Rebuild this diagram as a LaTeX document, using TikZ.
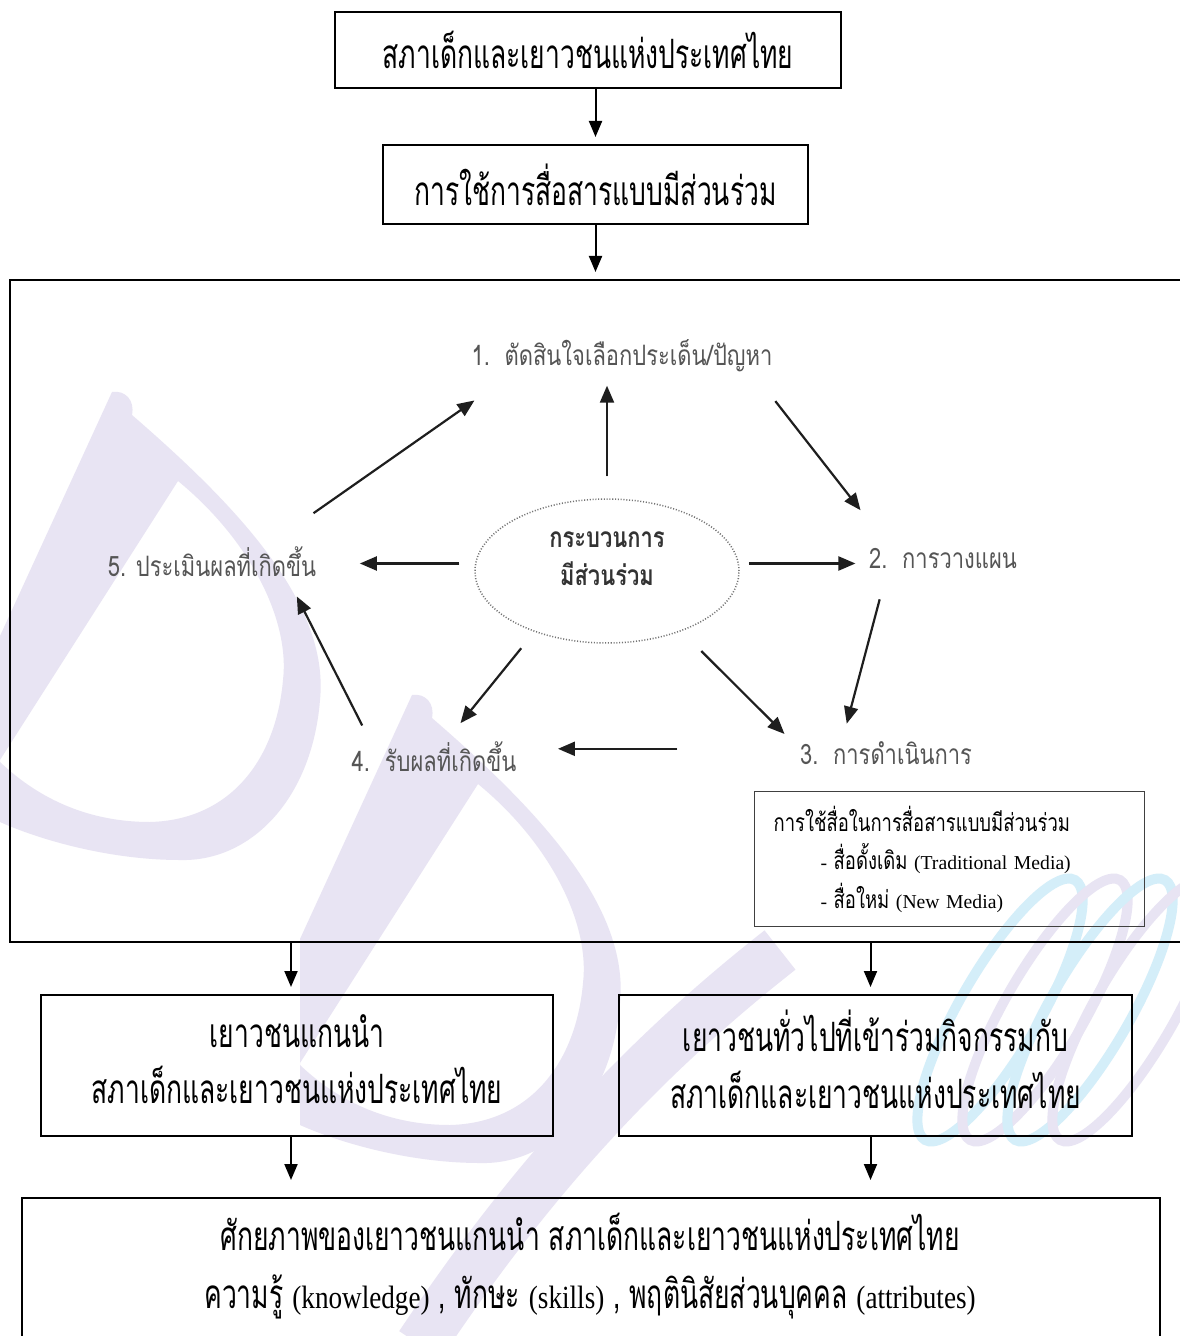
\documentclass[tikz,border=0pt]{standalone}
\usepackage{fontspec}
\setmainfont{Liberation Serif}
\newfontfamily\thaiserif[Script=Thai,FakeStretch=0.655]{Loma}
\newfontfamily\thaismall[Script=Thai,FakeStretch=0.75]{Loma}
\newfontfamily\thaisans[Script=Thai,FakeStretch=0.78]{Loma}
\newfontfamily\latnarrow[FakeStretch=0.84]{Liberation Serif}
\usetikzlibrary{arrows.meta,shapes.geometric,calc,positioning}
\definecolor{lblgray}{RGB}{85,85,85}
\definecolor{arrgray}{RGB}{30,30,30}
\definecolor{wmpurple}{RGB}{232,228,243}
\definecolor{wmcyan}{RGB}{212,238,249}
\newcommand{\thsm}[1]{{\thaismall\fontsize{7}{11}\selectfont #1}}
\newcommand{\ltn}[1]{{\latnarrow\fontsize{9.2}{16.5}\selectfont #1}}
% watermark drop, tip at (0,0)
\newcommand{\wmdrop}{(-115,243) -- (-3,-1) .. controls (10,-3) and (20,7) .. (17,22)
  .. controls (115,107) and (215,207) .. (205,307) .. controls (197,407) and (135,469) .. (65,467)
  .. controls (-5,467) and (-75,447) .. (-115,429) -- cycle
  (-115,367) -- (63,88) .. controls (135,147) and (175,227) .. (168,287)
  .. controls (161,367) and (115,427) .. (35,429) .. controls (-25,429) and (-75,407) .. (-115,369) -- cycle}
\tikzset{
 box/.style={draw=black,line width=0.2mm,inner sep=0pt,align=center,
   font=\thaiserif\fontsize{11.5}{16.2}\selectfont},
 lbl/.style={inner sep=0pt,text height=1.5mm,text depth=0.5mm,text=lblgray,
   font=\thaisans\fontsize{8}{10}\selectfont},
 marr/.style={-{Triangle[length=1.6mm,width=1.3mm]},line width=0.2mm,shorten >=0.7mm},
 carr/.style={-{Triangle[length=1.7mm,width=1.4mm]},line width=0.22mm,draw=arrgray,fill=arrgray},
}
\begin{document}
\begin{tikzpicture}[x=0.1mm,y=-0.1mm]
\fill[white](0,0)rectangle(1179,1336);
\useasboundingbox(0,0)rectangle(1179,1336);
%watermark
\begin{scope}[shift={(115,393)}]
\fill[wmpurple,even odd rule]\wmdrop;
\end{scope}
\begin{scope}[shift={(415,696)}]
\fill[wmpurple,even odd rule]\wmdrop;
\end{scope}
\draw[wmpurple,line width=5mm](420,1345)..controls(530,1180)and(640,1060)..(780,950);
\foreach \dx/\col in {0/wmcyan,45/wmpurple,90/wmcyan,135/wmpurple}
  \draw[\col,line width=1mm,rotate around={-30:(1000+\dx,1010)}](1000+\dx,1010)ellipse(40 and 150);
%top boxes
\node[box,minimum width=50.6mm,minimum height=7.6mm](b1)at(588,50){สภาเด็กและเยาวชนแห่งประเทศไทย};
\node[box,minimum width=42.5mm,minimum height=7.9mm](b2)at(595.5,184.5){การใช้การสื่อสารแบบมีส่วนร่วม};
\node[box,anchor=north west,minimum width=120mm,minimum height=66.2mm](proc)at(9,279){};
%cycle
\node[ellipse,draw=black!55,line width=0.15mm,dash pattern=on 0.3pt off 0.5pt,
  minimum width=26.4mm,minimum height=14.4mm,align=center,text=black!80,text depth=2.4mm,
  font=\thaisans\bfseries\fontsize{8}{10.8}\selectfont](cyc)at(607,571){กระบวนการ\\มีส่วนร่วม};
\node[lbl](s1)at(622,360.5){1.\ \ ตัดสินใจเลือกประเด็น/ปัญหา};
\node[lbl](s2)at(943,563.5){2.\ \ การวางแผน};
\node[lbl](s3)at(886,759.5){3.\ \ การดำเนินการ};
\node[lbl](s4)at(434,766.5){4.\ \ รับผลที่เกิดขึ้น};
\node[lbl](s5)at(212,571.5){5. ประเมินผลที่เกิดขึ้น};
\draw[carr,shorten <=2.2mm,shorten >=1.45mm](cyc.north)--(cyc.north|-s1.south);
\draw[carr,shorten <=8.3mm,shorten >=5.1mm]($(s5.north west)!.66!(s5.north east)$)--($(s1.south west)!.15!(s1.south east)$);
\draw[carr,shorten <=3.8mm,shorten >=5.4mm]($(s1.south west)!.93!(s1.south east)$)--($(s2.north west)!.17!(s2.north east)$);
\draw[carr,shorten <=0.9mm,shorten >=1.3mm](cyc.east|-s2.west)--(s2.west);
\draw[carr,shorten <=1.5mm,shorten >=4.3mm](cyc.west|-s2.west)--(s5.east|-s2.west);
\draw[carr,shorten <=2.6mm,shorten >=2.6mm]($(s2.south west)!.12!(s2.south east)$)--($(s3.north west)!.235!(s3.north east)$);
\draw[carr,shorten <=2.8mm,shorten >=2.1mm](cyc.-39)--(s3.north west);
\draw[carr,shorten <=12.2mm,shorten >=4.1mm](s3.north west)--(s3.north west-|s4.east);
\draw[carr,shorten <=2.1mm,shorten >=4.2mm](cyc.-140)--(s4.north);
\draw[carr,shorten <=3.4mm,shorten >=1.6mm]($(s4.north west)!.16!(s4.north east)$)--($(s5.south west)!.87!(s5.south east)$);
%media
\node[draw=black!75,line width=0.12mm,anchor=north west,minimum width=39mm,minimum height=13.5mm,
  inner xsep=1.9mm,text width=35.2mm,align=left,font=\fontsize{5.6}{11}\selectfont](media)at(754,791)
  {\thsm{การใช้สื่อในการสื่อสารแบบมีส่วนร่วม}\\
   \hspace*{4.7mm}- \thsm{สื่อดั้งเดิม} (Traditional Media)\\
   \hspace*{4.7mm}- \thsm{สื่อใหม่} (New Media)};
%lower boxes
\node[box,minimum width=51.2mm,minimum height=14.1mm,text depth=1.3mm](yl)at(297,1065.5){เยาวชนแกนนำ\\สภาเด็กและเยาวชนแห่งประเทศไทย};
\node[box,minimum width=51.3mm,minimum height=14.1mm,text depth=1.3mm](yg)at(875.5,1065.5){เยาวชนทั่วไปที่เข้าร่วมกิจกรรมกับ\\สภาเด็กและเยาวชนแห่งประเทศไทย};
\node[box,anchor=north west,minimum width=113.8mm,minimum height=20mm](res)at(21,1197){};
\node[align=center,font=\thaiserif\fontsize{11.5}{16.5}\selectfont](restxt)at(590,1266)
  {ศักยภาพของเยาวชนแกนนำ สภาเด็กและเยาวชนแห่งประเทศไทย\\
   ความรู้ \ltn{(knowledge)} , ทักษะ \ltn{(skills)} , พฤตินิสัยส่วนบุคคล \ltn{(attributes)}};
%arrows
\draw[marr](b2.north|-b1.south)--(b2.north);
\draw[marr](b2.south)--(b2.south|-proc.north);
\draw[marr]([xshift=-0.6mm]yl.north|-proc.south)--([xshift=-0.6mm]yl.north);
\draw[marr]([xshift=-0.5mm]yg.north|-proc.south)--([xshift=-0.5mm]yg.north);
\draw[marr,shorten >=1.7mm]([xshift=-0.6mm]yl.south)--([xshift=-0.6mm]yl.south|-res.north);
\draw[marr,shorten >=1.7mm]([xshift=-0.5mm]yg.south)--([xshift=-0.5mm]yg.south|-res.north);
\end{tikzpicture}
\end{document}
